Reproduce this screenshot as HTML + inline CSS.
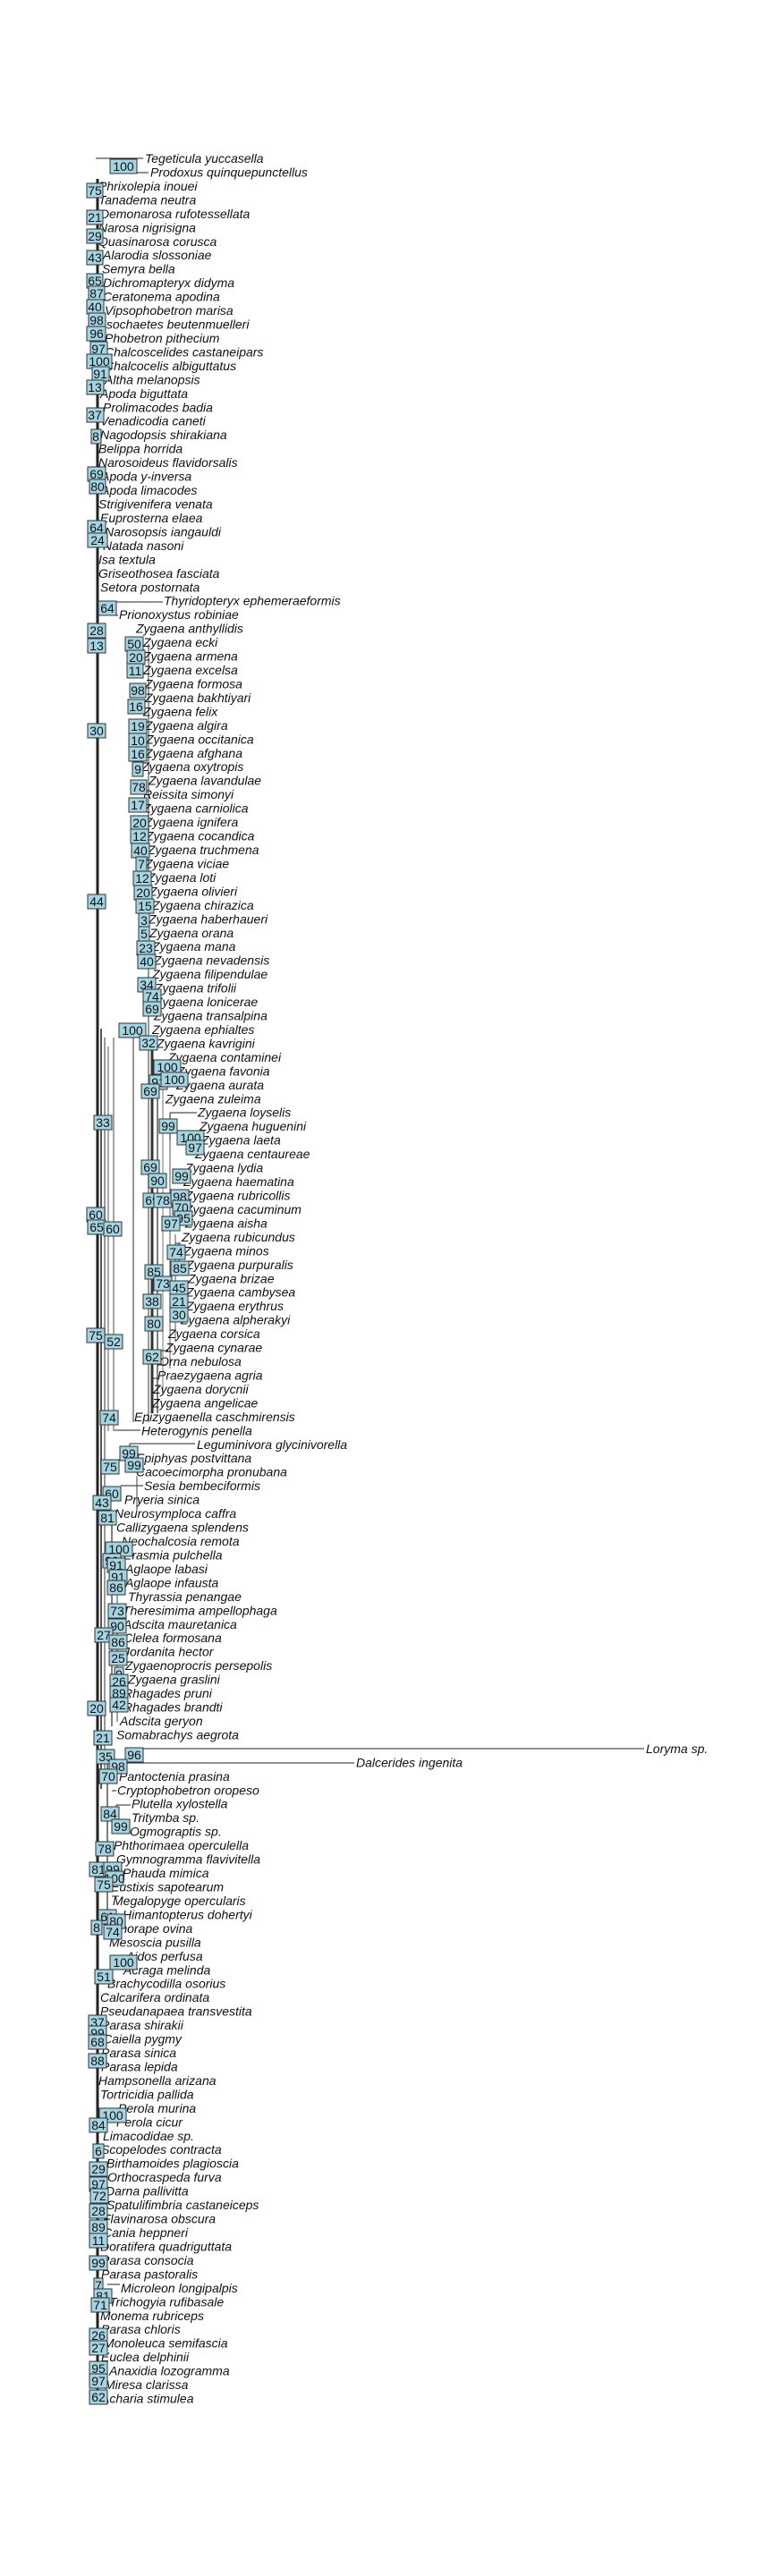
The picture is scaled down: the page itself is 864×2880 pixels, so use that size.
<!DOCTYPE html>
<html><head><meta charset="utf-8"><style>
html,body{margin:0;padding:0;background:#fff;}
svg{display:block;}
.t{font-family:"Liberation Sans",sans-serif;font-style:italic;font-size:14px;fill:#111;}
.b rect{fill:#a4d3e2;stroke:#333;stroke-width:1;}
.b text{font-family:"Liberation Sans",sans-serif;font-size:14px;fill:#111;text-anchor:middle;}
</style></head><body>
<svg width="864" height="2880" viewBox="0 0 864 2880" xmlns="http://www.w3.org/2000/svg">
<g stroke="#222" fill="none">
<path d="M109 200 V2682" stroke-width="3"/>
<path d="M113 1150 V2000" stroke="#555" stroke-width="2"/>
<path d="M117 1160 V1990" stroke="#777" stroke-width="1.5"/>
<path d="M121 1170 V1600" stroke="#555" stroke-width="1"/>
<path d="M127 1160 V1600" stroke="#444" stroke-width="1"/>
<path d="M149 1150 V1590" stroke="#777" stroke-width="1.5"/>
<path d="M153 1650 V1690" stroke="#444"/>
<path d="M166 720 V1590" stroke="#777" stroke-width="1.5"/>
<path d="M170 1160 V1580" stroke="#333" stroke-width="3"/>
<path d="M176 1200 V1580" stroke="#555" stroke-width="1.5"/>
<path d="M182 1200 V1560" stroke="#777" stroke-width="1"/>
<path d="M190 1250 V1530" stroke="#555" stroke-width="1"/>
<path d="M196 1380 V1500" stroke="#555" stroke-width="1"/>
<path d="M120 1960 V2160" stroke="#555" stroke-width="1.5"/>
<path d="M125 1700 V1930" stroke="#555" stroke-width="1.5"/>
<path d="M131 1750 V1925" stroke="#444" stroke-width="1"/>
<path d="M107 177 H160 M145 177 V193 H166"/>
<path d="M120 673 H182 M118 673 V688 H132"/>
<path d="M190 1244 H220 M190 1244 V1275"/>
<path d="M145 1614 H218 M145 1614 V1640"/>
<path d="M128 1599 H157"/>
<path d="M135 1661 H160"/>
<path d="M140 1955 H720 M140 1955 V1971 H396"/>
<path d="M125 2002 H130"/>
<path d="M120 2554 H134"/>
<path d="M130 2018 H146 M130 2018 V2040"/>
<path d="M133 2120 H125"/>
<path d="M133 2140 H136"/>
<path d="M200 1390 V1410 M196 1390 H202"/>
<path d="M176 1526 H186 M176 1510 H188"/>
<path d="M170 1541 H176"/>
</g>
<g class="t">
<text x="162" y="182">Tegeticula yuccasella</text>
<text x="168" y="197.5">Prodoxus quinquepunctellus</text>
<text x="110" y="212.9">Phrixolepia inouei</text>
<text x="110" y="228.4">Tanadema neutra</text>
<text x="112" y="243.8">Demonarosa rufotessellata</text>
<text x="110" y="259.3">Narosa nigrisigna</text>
<text x="110" y="274.8">Quasinarosa corusca</text>
<text x="115" y="290.2">Alarodia slossoniae</text>
<text x="114" y="305.7">Semyra bella</text>
<text x="115" y="321.1">Dichromapteryx didyma</text>
<text x="115" y="336.6">Ceratonema apodina</text>
<text x="117" y="352.1">Vipsophobetron marisa</text>
<text x="115" y="367.5">Isochaetes beutenmuelleri</text>
<text x="117" y="383">Phobetron pithecium</text>
<text x="117" y="398.4">Chalcoscelides castaneipars</text>
<text x="117" y="413.9">Chalcocelis albiguttatus</text>
<text x="117" y="429.4">Altha melanopsis</text>
<text x="112" y="444.8">Apoda biguttata</text>
<text x="115" y="460.3">Prolimacodes badia</text>
<text x="112" y="475.7">Venadicodia caneti</text>
<text x="112" y="491.2">Nagodopsis shirakiana</text>
<text x="110" y="506.7">Belippa horrida</text>
<text x="110" y="522.1">Narosoideus flavidorsalis</text>
<text x="113" y="537.6">Apoda y-inversa</text>
<text x="113" y="553">Apoda limacodes</text>
<text x="110" y="568.5">Strigivenifera venata</text>
<text x="112" y="584">Euprosterna elaea</text>
<text x="117" y="599.4">Narosopsis iangauldi</text>
<text x="115" y="614.9">Natada nasoni</text>
<text x="110" y="630.3">Isa textula</text>
<text x="110" y="645.8">Griseothosea fasciata</text>
<text x="112" y="661.3">Setora postornata</text>
<text x="183" y="676.7">Thyridopteryx ephemeraeformis</text>
<text x="133" y="692.2">Prionoxystus robiniae</text>
<text x="152" y="707.6">Zygaena anthyllidis</text>
<text x="160" y="723.1">Zygaena ecki</text>
<text x="160" y="738.6">Zygaena armena</text>
<text x="160" y="754">Zygaena excelsa</text>
<text x="162" y="769.5">Zygaena formosa</text>
<text x="162" y="784.9">Zygaena bakhtiyari</text>
<text x="160" y="800.4">Zygaena felix</text>
<text x="162" y="815.9">Zygaena algira</text>
<text x="163" y="831.3">Zygaena occitanica</text>
<text x="162" y="846.8">Zygaena afghana</text>
<text x="158" y="862.2">Zygaena oxytropis</text>
<text x="166" y="877.7">Zygaena lavandulae</text>
<text x="160" y="893.2">Reissita simonyi</text>
<text x="160" y="908.6">Zygaena carniolica</text>
<text x="162" y="924.1">Zygaena ignifera</text>
<text x="163" y="939.5">Zygaena cocandica</text>
<text x="165" y="955">Zygaena truchmena</text>
<text x="162" y="970.5">Zygaena viciae</text>
<text x="165" y="985.9">Zygaena loti</text>
<text x="167" y="1001.4">Zygaena olivieri</text>
<text x="170" y="1016.8">Zygaena chirazica</text>
<text x="166" y="1032.3">Zygaena haberhaueri</text>
<text x="167" y="1047.8">Zygaena orana</text>
<text x="170" y="1063.2">Zygaena mana</text>
<text x="172" y="1078.7">Zygaena nevadensis</text>
<text x="170" y="1094.1">Zygaena filipendulae</text>
<text x="173" y="1109.6">Zygaena trifolii</text>
<text x="173" y="1125.1">Zygaena lonicerae</text>
<text x="172" y="1140.5">Zygaena transalpina</text>
<text x="170" y="1156">Zygaena ephialtes</text>
<text x="175" y="1171.4">Zygaena kavrigini</text>
<text x="188" y="1186.9">Zygaena contaminei</text>
<text x="198" y="1202.4">Zygaena favonia</text>
<text x="197" y="1217.8">Zygaena aurata</text>
<text x="185" y="1233.3">Zygaena zuleima</text>
<text x="221" y="1248.7">Zygaena loyselis</text>
<text x="223" y="1264.2">Zygaena huguenini</text>
<text x="225" y="1279.7">Zygaena laeta</text>
<text x="218" y="1295.1">Zygaena centaureae</text>
<text x="207" y="1310.6">Zygaena lydia</text>
<text x="205" y="1326">Zygaena haematina</text>
<text x="207" y="1341.5">Zygaena rubricollis</text>
<text x="207" y="1357">Zygaena cacuminum</text>
<text x="207" y="1372.4">Zygaena aisha</text>
<text x="203" y="1387.9">Zygaena rubicundus</text>
<text x="205" y="1403.3">Zygaena minos</text>
<text x="208" y="1418.8">Zygaena purpuralis</text>
<text x="210" y="1434.3">Zygaena brizae</text>
<text x="208" y="1449.7">Zygaena cambysea</text>
<text x="208" y="1465.2">Zygaena erythrus</text>
<text x="202" y="1480.6">Zygaena alpherakyi</text>
<text x="188" y="1496.1">Zygaena corsica</text>
<text x="185" y="1511.6">Zygaena cynarae</text>
<text x="178" y="1527">Orna nebulosa</text>
<text x="176" y="1542.5">Praezygaena agria</text>
<text x="171" y="1557.9">Zygaena dorycnii</text>
<text x="170" y="1573.4">Zygaena angelicae</text>
<text x="150" y="1588.9">Epizygaenella caschmirensis</text>
<text x="158" y="1604.3">Heterogynis penella</text>
<text x="220" y="1619.8">Leguminivora glycinivorella</text>
<text x="152" y="1635.2">Epiphyas postvittana</text>
<text x="152" y="1650.7">Cacoecimorpha pronubana</text>
<text x="161" y="1666.2">Sesia bembeciformis</text>
<text x="139" y="1681.6">Pryeria sinica</text>
<text x="128" y="1697.1">Neurosymploca caffra</text>
<text x="130" y="1712.5">Callizygaena splendens</text>
<text x="136" y="1728">Neochalcosia remota</text>
<text x="138" y="1743.5">Erasmia pulchella</text>
<text x="140" y="1758.9">Aglaope labasi</text>
<text x="140" y="1774.4">Aglaope infausta</text>
<text x="143" y="1789.8">Thyrassia penangae</text>
<text x="137" y="1805.3">Theresimima ampellophaga</text>
<text x="138" y="1820.8">Adscita mauretanica</text>
<text x="138" y="1836.2">Clelea formosana</text>
<text x="138" y="1851.7">Jordanita hector</text>
<text x="140" y="1867.1">Zygaenoprocris persepolis</text>
<text x="143" y="1882.6">Zygaena graslini</text>
<text x="138" y="1898.1">Rhagades pruni</text>
<text x="138" y="1913.5">Rhagades brandti</text>
<text x="134" y="1929">Adscita geryon</text>
<text x="130" y="1944.4">Somabrachys aegrota</text>
<text x="722" y="1959.9">Loryma sp.</text>
<text x="398" y="1975.4">Dalcerides ingenita</text>
<text x="133" y="1990.8">Pantoctenia prasina</text>
<text x="131" y="2006.3">Cryptophobetron oropeso</text>
<text x="147" y="2021.7">Plutella xylostella</text>
<text x="147" y="2037.2">Tritymba sp.</text>
<text x="145" y="2052.7">Ogmograptis sp.</text>
<text x="127" y="2068.1">Phthorimaea operculella</text>
<text x="130" y="2083.6">Gymnogramma flavivitella</text>
<text x="137" y="2099">Phauda mimica</text>
<text x="124" y="2114.5">Eustixis sapotearum</text>
<text x="126" y="2130">Megalopyge opercularis</text>
<text x="137" y="2145.4">Himantopterus dohertyi</text>
<text x="125" y="2160.9">Anorape ovina</text>
<text x="122" y="2176.3">Mesoscia pusilla</text>
<text x="141" y="2191.8">Aidos perfusa</text>
<text x="138" y="2207.3">Acraga melinda</text>
<text x="120" y="2222.7">Brachycodilla osorius</text>
<text x="112" y="2238.2">Calcarifera ordinata</text>
<text x="112" y="2253.6">Pseudanapaea transvestita</text>
<text x="113" y="2269.1">Parasa shirakii</text>
<text x="115" y="2284.6">Caiella pygmy</text>
<text x="113" y="2300">Parasa sinica</text>
<text x="113" y="2315.5">Parasa lepida</text>
<text x="110" y="2330.9">Hampsonella arizana</text>
<text x="112" y="2346.4">Tortricidia pallida</text>
<text x="132" y="2361.9">Perola murina</text>
<text x="130" y="2377.3">Perola cicur</text>
<text x="115" y="2392.8">Limacodidae sp.</text>
<text x="113" y="2408.2">Scopelodes contracta</text>
<text x="119" y="2423.7">Birthamoides plagioscia</text>
<text x="120" y="2439.2">Orthocraspeda furva</text>
<text x="118" y="2454.6">Darna pallivitta</text>
<text x="119" y="2470.1">Spatulifimbria castaneiceps</text>
<text x="115" y="2485.5">Flavinarosa obscura</text>
<text x="115" y="2501">Cania heppneri</text>
<text x="112" y="2516.5">Doratifera quadriguttata</text>
<text x="113" y="2531.9">Parasa consocia</text>
<text x="113" y="2547.4">Parasa pastoralis</text>
<text x="135" y="2562.8">Microleon longipalpis</text>
<text x="122" y="2578.3">Trichogyia rufibasale</text>
<text x="112" y="2593.8">Monema rubriceps</text>
<text x="113" y="2609.2">Parasa chloris</text>
<text x="116" y="2624.7">Monoleuca semifascia</text>
<text x="113" y="2640.1">Euclea delphinii</text>
<text x="122" y="2655.6">Anaxidia lozogramma</text>
<text x="117" y="2671.1">Miresa clarissa</text>
<text x="113" y="2686.5">Acharia stimulea</text>
</g>
<g class="b">
<rect x="123" y="178" width="30" height="16"/><text x="138" y="191">100</text>
<rect x="97" y="205" width="18" height="16"/><text x="106" y="218">75</text>
<rect x="97" y="235" width="18" height="16"/><text x="106" y="248">21</text>
<rect x="97" y="256" width="18" height="16"/><text x="106" y="269">29</text>
<rect x="97" y="280" width="18" height="16"/><text x="106" y="293">43</text>
<rect x="97" y="306" width="18" height="16"/><text x="106" y="319">65</text>
<rect x="99" y="320" width="18" height="16"/><text x="108" y="333">87</text>
<rect x="97" y="335" width="19" height="16"/><text x="106" y="348">40</text>
<rect x="99" y="350" width="19" height="16"/><text x="108" y="363">98</text>
<rect x="97" y="365" width="21" height="16"/><text x="108" y="378">96</text>
<rect x="101" y="382" width="19" height="16"/><text x="110" y="395">97</text>
<rect x="97" y="396" width="28" height="16"/><text x="111" y="409">100</text>
<rect x="103" y="410" width="19" height="16"/><text x="112" y="423">91</text>
<rect x="97" y="425" width="19" height="16"/><text x="106" y="438">13</text>
<rect x="97" y="456" width="19" height="16"/><text x="106" y="469">37</text>
<rect x="102" y="480" width="11" height="16"/><text x="107" y="493">8</text>
<rect x="98" y="522" width="20" height="16"/><text x="108" y="535">69</text>
<rect x="100" y="536" width="18" height="16"/><text x="109" y="549">80</text>
<rect x="98" y="582" width="20" height="16"/><text x="108" y="595">64</text>
<rect x="98" y="596" width="22" height="16"/><text x="109" y="609">24</text>
<rect x="110" y="672" width="20" height="16"/><text x="120" y="685">64</text>
<rect x="98" y="697" width="20" height="16"/><text x="108" y="710">28</text>
<rect x="98" y="714" width="20" height="16"/><text x="108" y="727">13</text>
<rect x="140" y="712" width="20" height="16"/><text x="150" y="725">50</text>
<rect x="142" y="727" width="20" height="16"/><text x="152" y="740">20</text>
<rect x="142" y="742" width="18" height="16"/><text x="151" y="755">11</text>
<rect x="145" y="764" width="18" height="16"/><text x="154" y="777">98</text>
<rect x="143" y="782" width="19" height="16"/><text x="152" y="795">16</text>
<rect x="98" y="809" width="20" height="16"/><text x="108" y="822">30</text>
<rect x="144" y="804" width="20" height="16"/><text x="154" y="817">19</text>
<rect x="144" y="820" width="20" height="16"/><text x="154" y="833">10</text>
<rect x="144" y="835" width="20" height="16"/><text x="154" y="848">16</text>
<rect x="148" y="852" width="12" height="16"/><text x="154" y="865">9</text>
<rect x="146" y="872" width="18" height="16"/><text x="155" y="885">78</text>
<rect x="144" y="892" width="20" height="16"/><text x="154" y="905">17</text>
<rect x="146" y="912" width="20" height="16"/><text x="156" y="925">20</text>
<rect x="146" y="927" width="20" height="16"/><text x="156" y="940">12</text>
<rect x="147" y="943" width="20" height="16"/><text x="157" y="956">40</text>
<rect x="152" y="958" width="12" height="16"/><text x="158" y="971">7</text>
<rect x="149" y="974" width="20" height="16"/><text x="159" y="987">12</text>
<rect x="150" y="990" width="20" height="16"/><text x="160" y="1003">20</text>
<rect x="98" y="1000" width="20" height="16"/><text x="108" y="1013">44</text>
<rect x="152" y="1005" width="20" height="16"/><text x="162" y="1018">15</text>
<rect x="155" y="1021" width="12" height="16"/><text x="161" y="1034">3</text>
<rect x="155" y="1036" width="12" height="16"/><text x="161" y="1049">5</text>
<rect x="153" y="1052" width="20" height="16"/><text x="163" y="1065">23</text>
<rect x="154" y="1067" width="20" height="16"/><text x="164" y="1080">40</text>
<rect x="154" y="1093" width="20" height="16"/><text x="164" y="1106">34</text>
<rect x="160" y="1106" width="20" height="16"/><text x="170" y="1119">74</text>
<rect x="160" y="1120" width="20" height="16"/><text x="170" y="1133">69</text>
<rect x="133" y="1144" width="30" height="16"/><text x="148" y="1157">100</text>
<rect x="156" y="1158" width="20" height="16"/><text x="166" y="1171">32</text>
<rect x="172" y="1185" width="30" height="16"/><text x="187" y="1198">100</text>
<rect x="167" y="1202" width="20" height="16"/><text x="177" y="1215">91</text>
<rect x="180" y="1199" width="30" height="16"/><text x="195" y="1212">100</text>
<rect x="158" y="1212" width="20" height="16"/><text x="168" y="1225">69</text>
<rect x="105" y="1247" width="20" height="16"/><text x="115" y="1260">33</text>
<rect x="178" y="1251" width="20" height="16"/><text x="188" y="1264">99</text>
<rect x="198" y="1264" width="30" height="16"/><text x="213" y="1277">100</text>
<rect x="208" y="1275" width="20" height="16"/><text x="218" y="1288">97</text>
<rect x="158" y="1297" width="20" height="16"/><text x="168" y="1310">69</text>
<rect x="166" y="1312" width="20" height="16"/><text x="176" y="1325">90</text>
<rect x="193" y="1307" width="20" height="16"/><text x="203" y="1320">99</text>
<rect x="160" y="1334" width="20" height="16"/><text x="170" y="1347">69</text>
<rect x="172" y="1334" width="20" height="16"/><text x="182" y="1347">78</text>
<rect x="191" y="1330" width="20" height="16"/><text x="201" y="1343">98</text>
<rect x="193" y="1342" width="20" height="16"/><text x="203" y="1355">70</text>
<rect x="195" y="1354" width="20" height="16"/><text x="205" y="1367">95</text>
<rect x="97" y="1350" width="20" height="16"/><text x="107" y="1363">60</text>
<rect x="98" y="1364" width="20" height="16"/><text x="108" y="1377">65</text>
<rect x="116" y="1366" width="20" height="16"/><text x="126" y="1379">60</text>
<rect x="181" y="1360" width="20" height="16"/><text x="191" y="1373">97</text>
<rect x="187" y="1392" width="20" height="16"/><text x="197" y="1405">74</text>
<rect x="162" y="1414" width="20" height="16"/><text x="172" y="1427">85</text>
<rect x="191" y="1410" width="20" height="16"/><text x="201" y="1423">85</text>
<rect x="172" y="1427" width="20" height="16"/><text x="182" y="1440">73</text>
<rect x="190" y="1432" width="20" height="16"/><text x="200" y="1445">45</text>
<rect x="190" y="1447" width="20" height="16"/><text x="200" y="1460">21</text>
<rect x="190" y="1462" width="20" height="16"/><text x="200" y="1475">30</text>
<rect x="160" y="1447" width="20" height="16"/><text x="170" y="1460">38</text>
<rect x="162" y="1472" width="20" height="16"/><text x="172" y="1485">80</text>
<rect x="97" y="1485" width="20" height="16"/><text x="107" y="1498">75</text>
<rect x="117" y="1492" width="20" height="16"/><text x="127" y="1505">52</text>
<rect x="160" y="1509" width="20" height="16"/><text x="170" y="1522">62</text>
<rect x="112" y="1577" width="20" height="16"/><text x="122" y="1590">74</text>
<rect x="134" y="1617" width="20" height="16"/><text x="144" y="1630">99</text>
<rect x="140" y="1630" width="20" height="16"/><text x="150" y="1643">99</text>
<rect x="113" y="1632" width="20" height="16"/><text x="123" y="1645">75</text>
<rect x="115" y="1662" width="20" height="16"/><text x="125" y="1675">60</text>
<rect x="104" y="1672" width="20" height="16"/><text x="114" y="1685">43</text>
<rect x="110" y="1689" width="20" height="16"/><text x="120" y="1702">81</text>
<rect x="118" y="1724" width="30" height="16"/><text x="133" y="1737">100</text>
<rect x="115" y="1737" width="20" height="16"/><text x="125" y="1750">90</text>
<rect x="120" y="1742" width="20" height="16"/><text x="130" y="1755">91</text>
<rect x="122" y="1755" width="20" height="16"/><text x="132" y="1768">91</text>
<rect x="120" y="1767" width="20" height="16"/><text x="130" y="1780">86</text>
<rect x="121" y="1793" width="20" height="16"/><text x="131" y="1806">73</text>
<rect x="121" y="1810" width="20" height="16"/><text x="131" y="1823">90</text>
<rect x="106" y="1820" width="20" height="16"/><text x="116" y="1833">27</text>
<rect x="122" y="1828" width="20" height="16"/><text x="132" y="1841">86</text>
<rect x="122" y="1846" width="20" height="16"/><text x="132" y="1859">25</text>
<rect x="128" y="1864" width="10" height="16"/><text x="133" y="1877">9</text>
<rect x="123" y="1872" width="20" height="16"/><text x="133" y="1885">26</text>
<rect x="123" y="1885" width="20" height="16"/><text x="133" y="1898">89</text>
<rect x="123" y="1898" width="20" height="16"/><text x="133" y="1911">42</text>
<rect x="98" y="1902" width="20" height="16"/><text x="108" y="1915">20</text>
<rect x="105" y="1935" width="20" height="16"/><text x="115" y="1948">21</text>
<rect x="108" y="1956" width="20" height="16"/><text x="118" y="1969">35</text>
<rect x="140" y="1954" width="20" height="16"/><text x="150" y="1967">96</text>
<rect x="122" y="1967" width="20" height="16"/><text x="132" y="1980">98</text>
<rect x="111" y="1978" width="20" height="16"/><text x="121" y="1991">70</text>
<rect x="113" y="2020" width="20" height="16"/><text x="123" y="2033">84</text>
<rect x="125" y="2034" width="20" height="16"/><text x="135" y="2047">99</text>
<rect x="107" y="2059" width="20" height="16"/><text x="117" y="2072">78</text>
<rect x="100" y="2082" width="20" height="16"/><text x="110" y="2095">81</text>
<rect x="116" y="2082" width="20" height="16"/><text x="126" y="2095">99</text>
<rect x="118" y="2092" width="20" height="16"/><text x="128" y="2105">100</text>
<rect x="106" y="2099" width="20" height="16"/><text x="116" y="2112">75</text>
<rect x="110" y="2135" width="20" height="16"/><text x="120" y="2148">61</text>
<rect x="120" y="2140" width="20" height="16"/><text x="130" y="2153">80</text>
<rect x="102" y="2147" width="12" height="16"/><text x="108" y="2160">8</text>
<rect x="116" y="2152" width="20" height="16"/><text x="126" y="2165">74</text>
<rect x="123" y="2186" width="30" height="16"/><text x="138" y="2199">100</text>
<rect x="106" y="2202" width="20" height="16"/><text x="116" y="2215">51</text>
<rect x="99" y="2253" width="20" height="16"/><text x="109" y="2266">37</text>
<rect x="99" y="2265" width="20" height="16"/><text x="109" y="2278">99</text>
<rect x="99" y="2275" width="20" height="16"/><text x="109" y="2288">68</text>
<rect x="99" y="2296" width="20" height="16"/><text x="109" y="2309">88</text>
<rect x="111" y="2357" width="30" height="16"/><text x="126" y="2370">100</text>
<rect x="100" y="2368" width="20" height="16"/><text x="110" y="2381">84</text>
<rect x="104" y="2397" width="12" height="16"/><text x="110" y="2410">6</text>
<rect x="100" y="2417" width="20" height="16"/><text x="110" y="2430">29</text>
<rect x="100" y="2434" width="20" height="16"/><text x="110" y="2447">97</text>
<rect x="101" y="2447" width="20" height="16"/><text x="111" y="2460">72</text>
<rect x="100" y="2464" width="20" height="16"/><text x="110" y="2477">28</text>
<rect x="100" y="2482" width="20" height="16"/><text x="110" y="2495">89</text>
<rect x="100" y="2497" width="20" height="16"/><text x="110" y="2510">11</text>
<rect x="100" y="2522" width="20" height="16"/><text x="110" y="2535">99</text>
<rect x="105" y="2547" width="10" height="16"/><text x="110" y="2560">7</text>
<rect x="105" y="2559" width="20" height="16"/><text x="115" y="2572">81</text>
<rect x="102" y="2569" width="20" height="16"/><text x="112" y="2582">71</text>
<rect x="100" y="2603" width="20" height="16"/><text x="110" y="2616">26</text>
<rect x="100" y="2617" width="20" height="16"/><text x="110" y="2630">27</text>
<rect x="100" y="2640" width="20" height="16"/><text x="110" y="2653">95</text>
<rect x="100" y="2654" width="20" height="16"/><text x="110" y="2667">97</text>
<rect x="100" y="2672" width="20" height="16"/><text x="110" y="2685">62</text>
</g>
</svg>
</body></html>
